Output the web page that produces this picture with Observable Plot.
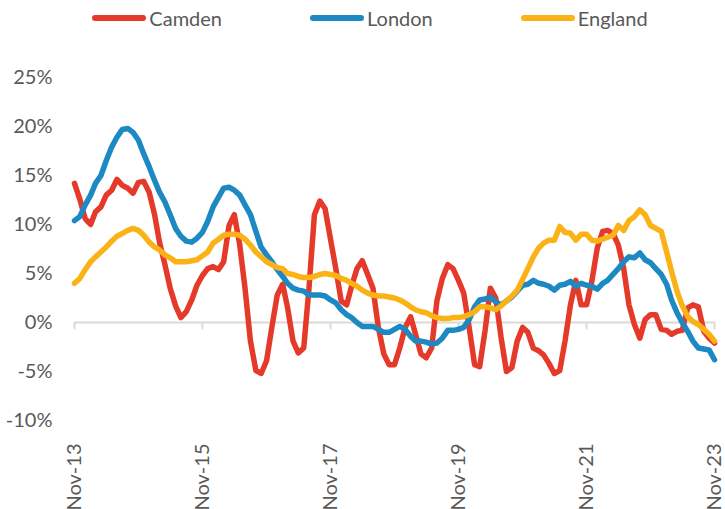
<!DOCTYPE html>
<html><head><meta charset="utf-8">
<script src="https://cdn.jsdelivr.net/npm/d3@7"></script>
<script src="https://cdn.jsdelivr.net/npm/@observablehq/plot@0.6"></script>
<style>
body{margin:0;background:#fff;font-family:Lato,sans-serif;}
#legend{height:36px;display:flex;justify-content:center;align-items:center;gap:88px;padding-left:15px;font-size:20px;color:#595959;}
.item{display:flex;align-items:center;gap:3px}
.sw{width:54px;height:6px;border-radius:3px}
</style></head><body>
<div id="legend"></div>
<div id="chart"></div>
<script>
const startYear = 2013, startMonthIndex = 10; // Nov-13
const seriesNames = ["Camden", "London", "England"];
const seriesColors = ["#E5392A", "#1D89C2", "#FBB216"];
const camden = [14.2,12.6,10.6,10.0,11.3,11.8,13.0,13.5,14.6,14.0,13.7,13.2,14.3,14.4,13.3,11.0,8.2,5.9,3.5,1.7,
  0.5,1.1,2.3,3.8,4.8,5.5,5.7,5.4,6.2,9.9,11.0,7.9,3.5,-1.9,-4.9,-5.2,-3.9,-0.5,2.8,3.9,
  1.5,-1.9,-3.1,-2.6,3.5,11.0,12.4,11.6,8.5,5.5,2.2,1.8,3.7,5.5,6.3,4.9,3.5,-0.5,-3.2,-4.3,
  -4.3,-2.6,-0.5,0.6,-1.2,-3.2,-3.6,-2.6,2.2,4.5,5.9,5.5,4.3,3.0,-0.5,-4.3,-4.5,-0.8,3.5,2.5,
  -1.5,-5.0,-4.6,-1.9,-0.5,-1.0,-2.6,-2.9,-3.3,-4.2,-5.2,-4.9,-1.9,1.8,4.3,1.8,1.8,4.2,7.6,9.3,
  9.4,9.1,7.9,5.5,1.8,-0.2,-1.6,0.3,0.8,0.8,-0.7,-0.8,-1.2,-0.9,-0.8,1.5,1.8,1.6,-0.9,-1.6,
  -2.1];
const london = [10.4,10.8,12.0,13.0,14.2,15.0,16.5,17.9,18.9,19.7,19.8,19.4,18.6,17.2,15.9,14.5,13.3,12.3,11.0,9.6,
  8.8,8.3,8.2,8.6,9.2,10.3,11.8,12.8,13.7,13.8,13.5,13.0,12.0,11.0,9.3,7.7,6.9,6.2,5.4,4.7,
  4.0,3.5,3.3,3.2,2.8,2.8,2.8,2.7,2.3,2.0,1.3,0.8,0.5,0.0,-0.4,-0.4,-0.4,-0.7,-1.0,-1.0,
  -0.7,-0.4,-0.7,-1.4,-1.9,-1.9,-2.0,-2.2,-2.1,-1.6,-0.8,-0.8,-0.7,-0.5,0.3,1.6,2.3,2.4,2.6,2.1,
  1.8,2.2,2.6,3.2,3.8,3.9,4.3,4.0,3.9,3.7,3.3,3.8,3.9,4.2,3.7,4.0,3.8,3.7,3.4,4.0,
  4.3,4.9,5.5,6.2,6.7,6.6,7.1,6.4,6.1,5.5,4.9,3.9,2.3,1.0,0.0,-0.9,-1.9,-2.6,-2.7,-2.8,
  -3.8];
const england = [4.0,4.5,5.4,6.2,6.7,7.2,7.7,8.3,8.8,9.1,9.4,9.6,9.4,8.9,8.2,7.7,7.4,6.9,6.6,6.2,
  6.2,6.2,6.3,6.4,6.8,7.2,8.1,8.5,8.9,9.0,9.0,8.9,8.5,7.9,7.2,6.7,6.2,5.9,5.6,5.5,
  5.0,4.9,4.7,4.6,4.6,4.7,4.9,5.0,4.9,4.8,4.5,4.3,4.0,3.7,3.3,3.0,2.8,2.7,2.7,2.6,
  2.5,2.3,2.0,1.6,1.3,1.1,1.0,0.7,0.5,0.4,0.4,0.5,0.5,0.6,0.8,1.1,1.6,1.6,1.5,1.3,
  1.7,2.2,2.7,3.3,4.4,5.5,6.7,7.6,8.1,8.4,8.4,9.8,9.2,9.1,8.4,9.0,9.0,8.4,8.3,8.5,
  8.7,8.9,9.9,9.4,10.4,10.8,11.5,11.0,9.9,9.6,9.3,7.2,5.2,3.2,1.7,0.6,0.1,-0.2,-0.7,-1.2,
  -1.9];
const yTicks = [-10, -5, 0, 5, 10, 15, 20, 25];
const xTickLabels = ["Nov-13", "Nov-15", "Nov-17", "Nov-19", "Nov-21", "Nov-23"];

const monthDate = i => new Date(Date.UTC(startYear, startMonthIndex + i, 1));
const seriesValues = [camden, london, england];
const data = [];
seriesValues.forEach((vals, s) => vals.forEach((v, i) => data.push({series: seriesNames[s], date: monthDate(i), value: v})));
const tickDates = xTickLabels.map((_, k) => monthDate(k * 24));
const labelOf = new Map(tickDates.map((d, k) => [+d, xTickLabels[k]]));
const firstDate = monthDate(0), lastDate = monthDate(camden.length - 1);

// legend
const legend = document.getElementById("legend");
seriesNames.forEach((n, s) => {
  const it = document.createElement("div"); it.className = "item";
  const sw = document.createElement("div"); sw.className = "sw"; sw.style.background = seriesColors[s];
  const tx = document.createElement("span"); tx.textContent = n;
  it.append(sw, tx); legend.append(it);
});

const chart = Plot.plot({
  width: 725, height: 473,
  marginLeft: 74, marginRight: 11, marginTop: 41, marginBottom: 89,
  style: {fontFamily: "Lato, sans-serif", fontSize: "20px", color: "#595959", background: "#fff", overflow: "visible"},
  x: {type: "utc", domain: [firstDate, lastDate]},
  y: {domain: [-10, 25]},
  color: {domain: seriesNames, range: seriesColors},
  marks: [
    Plot.axisY({ticks: yTicks, tickSize: 0, tickPadding: 22, tickFormat: d => d + "%", label: null}),
    Plot.axisX({ticks: tickDates, tickSize: 0, tickPadding: 23, tickRotate: -90, tickFormat: d => labelOf.get(+d), label: null}),
    Plot.ruleY([0], {x1: firstDate, x2: lastDate, stroke: "#d9d9d9", strokeWidth: 2}),
    Plot.ruleX(tickDates, {x: d => d, y1: 0, y2: -0.75, stroke: "#d9d9d9", strokeWidth: 2}),
    Plot.line(data, {x: "date", y: "value", z: "series", stroke: "series", strokeWidth: 5.5, strokeLinejoin: "round", strokeLinecap: "round"})
  ]
});
document.getElementById("chart").append(chart);
</script>
</body></html>
